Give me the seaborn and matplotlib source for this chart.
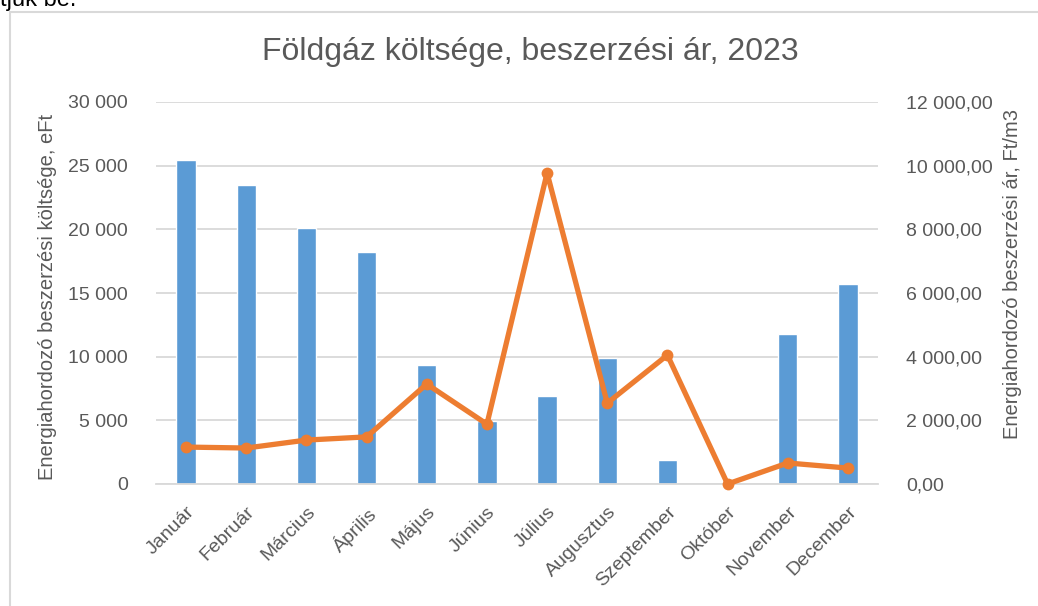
import numpy as np
import pandas as pd
import matplotlib
matplotlib.use("Agg")
import matplotlib.pyplot as plt
import matplotlib.ticker as mtick
from matplotlib.patches import Rectangle
import seaborn as sns

months = ["Január", "Február", "Március", "Április", "Május", "Június",
          "Július", "Augusztus", "Szeptember", "Október", "November", "December"]
cost_eft = [25450, 23500, 20100, 18200, 9350, 4950, 6900, 9900, 1900, 0, 11800, 15700]
price_ft_m3 = [1160, 1130, 1380, 1480, 3140, 1880, 9770, 2540, 4050, 0, 660, 500]

BAR = "#5B9BD5"
LINE = "#ED7D31"
GRID = "#D9D9D9"
TXT = "#595959"

sns.set_theme(style="white")
plt.rcParams["font.family"] = ["Liberation Sans", "DejaVu Sans"]

df = pd.DataFrame({"honap": months, "koltseg": cost_eft, "ar": price_ft_m3})

W, H = 1038, 606
fig = plt.figure(figsize=(W / 100, H / 100), dpi=100)
ax = fig.add_axes([156 / W, 1 - 484 / H, (878 - 156) / W, (484 - 102) / H])

sns.barplot(data=df, x="honap", y="koltseg", color=BAR, width=0.32,
            saturation=1, ax=ax, zorder=2)
ax.set_ylim(0, 30000)
ax.set_xlim(-0.5, len(months) - 0.5)
ax.yaxis.set_major_locator(mtick.MultipleLocator(5000))
ax.yaxis.set_major_formatter(mtick.FuncFormatter(
    lambda v, p: f"{int(v):,}".replace(",", " ")))
ax.grid(axis="y", color=GRID, linewidth=1.3, zorder=0)
ax.set_axisbelow(True)
for s in ["top", "right", "left"]:
    ax.spines[s].set_visible(False)
ax.spines["bottom"].set_color(GRID)
ax.spines["bottom"].set_linewidth(1.3)
ax.set_xlabel("")
ax.set_ylabel("Energiahordozó beszerzési költsége, eFt", color=TXT, fontsize=14.5)
ax.yaxis.set_label_coords(-0.137, 0.49)
ax.tick_params(axis="y", colors=TXT, labelsize=14, length=0, pad=20)
ax.tick_params(axis="x", colors=TXT, labelsize=14, length=0, pad=14)
plt.setp(ax.get_xticklabels(), rotation=45, ha="right", rotation_mode="anchor")

ax2 = ax.twinx()
sns.lineplot(data=df, x="honap", y="ar", color=LINE, linewidth=3.8, marker="o",
             markersize=8.5, markeredgewidth=0, sort=False, ax=ax2, zorder=3,
             clip_on=False)
ax2.set_ylim(0, 12000)
ax2.yaxis.set_major_locator(mtick.MultipleLocator(2000))
ax2.yaxis.set_major_formatter(mtick.FuncFormatter(
    lambda v, p: f"{v:,.2f}".replace(",", " ").replace(".", ",")))
for s in ax2.spines.values():
    s.set_visible(False)
ax2.set_ylabel("Energiahordozó beszerzési ár, Ft/m3", color=TXT, fontsize=14.5)
ax2.yaxis.set_label_coords(1.173, 0.55)
ax2.tick_params(axis="y", colors=TXT, labelsize=14, length=0, pad=20)
ax2.grid(False)

fig.text(530 / W, 1 - 52 / H, "Földgáz költsége, beszerzési ár, 2023",
         ha="center", va="center", fontsize=23, color=TXT)

# chart frame and the cut-off document text above it
fig.patches.append(Rectangle((10 / W, -0.02), 1.05, 1 - 12 / H + 0.02,
                             transform=fig.transFigure, fill=False,
                             edgecolor=GRID, linewidth=1.5))
fig.text(0.0, 1 - 6 / H, "tjuk be.", ha="left", va="baseline", fontsize=17,
         color="black")

fig.savefig("out.png", dpi=100)
